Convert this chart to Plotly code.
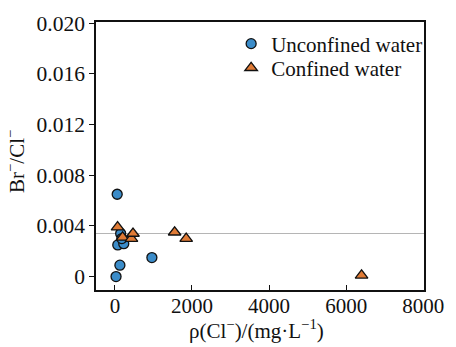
import plotly.graph_objects as go

# Cl- concentration (mg/L) and Br-/Cl- ratio for each water type
unconfined_cl = [60, 75, 150, 230, 180, 130, 30, 960]
unconfined_ratio = [0.0065, 0.0025, 0.0034, 0.0026, 0.0030, 0.0009, 0.0000, 0.0015]

confined_cl = [70, 200, 430, 470, 1550, 1850, 6400]
confined_ratio = [0.0039, 0.0031, 0.0030, 0.0034, 0.0035, 0.0030, 0.0001]

seawater_ratio = 0.0034

y_tickvals = [0, 0.004, 0.008, 0.012, 0.016, 0.020]
y_ticktext = ["0", "0.004", "0.008", "0.012", "0.016", "0.020"]
x_tickvals = [0, 2000, 4000, 6000, 8000]

x_title = "ρ(Cl<sup>−</sup>)/(mg·L<sup>−1</sup>)"
y_title = "Br<sup>−</sup>/Cl<sup>−</sup>"

serif = "Liberation Serif"
ink = "#111111"

fig = go.Figure()
fig.add_trace(go.Scatter(
    x=unconfined_cl, y=unconfined_ratio, mode="markers", name="Unconfined water",
    legend="legend",
    marker=dict(symbol="circle", size=10, color="#3b8cc9",
                line=dict(color=ink, width=1.3)),
))
fig.add_trace(go.Scatter(
    x=confined_cl, y=confined_ratio, mode="markers", name="Confined water",
    legend="legend2",
    marker=dict(symbol="triangle-up", size=11, color="#e07b36",
                line=dict(color=ink, width=1.3)),
))

# reference ratio line across the whole plot width
fig.add_shape(type="line", xref="paper", x0=0, x1=1, yref="y",
              y0=seawater_ratio, y1=seawater_ratio,
              line=dict(color="#b5b5b5", width=1), layer="below")

# axis titles
fig.add_annotation(text=x_title, xref="paper", yref="paper", x=0.49, y=-0.146,
                   xanchor="center", yanchor="middle", showarrow=False,
                   font=dict(family=serif, size=21, color=ink))
fig.add_annotation(text=y_title, xref="paper", yref="paper", x=-0.245, y=0.48,
                   xanchor="center", yanchor="middle", showarrow=False, textangle=-90,
                   font=dict(family=serif, size=21, color=ink))

legend_style = dict(x=0.412, xanchor="left", yanchor="middle",
                    font=dict(family=serif, size=21, color=ink),
                    bgcolor="rgba(0,0,0,0)")

fig.update_layout(
    width=456, height=347,
    margin=dict(l=96, r=24, t=22, b=57),
    paper_bgcolor="white", plot_bgcolor="white",
    font=dict(family=serif, size=21, color=ink),
    showlegend=True,
    legend=dict(y=0.918, **legend_style),
    legend2=dict(y=0.828, **legend_style),
    xaxis=dict(
        range=[-490, 8020], tickvals=x_tickvals,
        ticks="inside", ticklen=5, tickcolor=ink, ticklabelstandoff=-4,
        showline=True, linecolor=ink, linewidth=1.5, mirror=True,
        showgrid=False, zeroline=False,
        tickfont=dict(family=serif, size=21, color=ink),
    ),
    yaxis=dict(
        range=[-0.00106, 0.0201], tickvals=y_tickvals, ticktext=y_ticktext,
        ticks="outside", ticklen=5, tickcolor=ink,
        showline=True, linecolor=ink, linewidth=1.5, mirror=True,
        showgrid=False, zeroline=False,
        tickfont=dict(family=serif, size=21.5, color=ink),
    ),
)

fig.write_html("out.html")
